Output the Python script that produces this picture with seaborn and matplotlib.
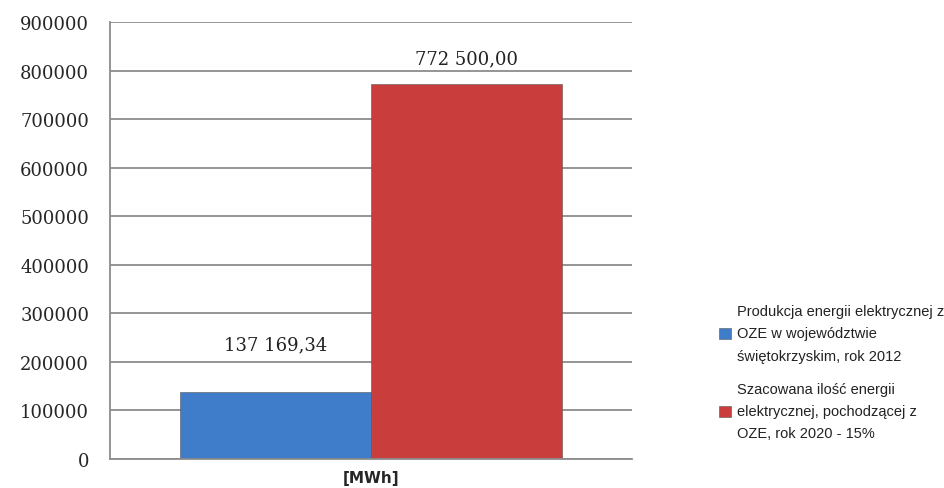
import numpy as np
import pandas as pd
import seaborn as sns
from matplotlib import pyplot as plt

# dane z wykresu
kategorie = ["[MWh]", "[MWh]"]
serie = [
    "Produkcja energii elektrycznej z\nOZE w województwie\nświętokrzyskim, rok 2012",
    "Szacowana ilość energii\nelektrycznej, pochodzącej z\nOZE, rok 2020 - 15%",
]
wartosci = [137169.34, 772500.00]
kolory = ["#3F7CC9", "#C93D3C"]
y_ticks = [0, 100000, 200000, 300000, 400000, 500000, 600000, 700000, 800000, 900000]


def formatuj(v):
    return f"{v:,.2f}".replace(",", " ").replace(".", ",")


df = pd.DataFrame({"kategoria": kategorie, "seria": serie, "wartosc": wartosci})

sns.set_style("white")
fig = plt.figure(figsize=(9.45, 4.89), dpi=100)
ax = fig.add_axes([0.1164, 0.0593, 0.5524, 0.8937])

sns.barplot(data=df, x="kategoria", y="wartosc", hue="seria", palette=kolory,
            saturation=1, width=0.73, ax=ax, edgecolor="#555555", linewidth=0.4,
            legend=True)

for cont, v, pad in zip(ax.containers, wartosci, [28, 12]):
    ax.bar_label(cont, labels=[formatuj(v)], padding=pad,
                 fontsize=13, family="DejaVu Serif", color="#222222")

ax.set_ylim(0, 900000)
ax.set_xlim(-0.5, 0.5)
ax.set_yticks(y_ticks)
ax.set_yticklabels([str(t) for t in y_ticks], family="DejaVu Serif", fontsize=13)
ax.tick_params(axis="y", length=0, pad=15)
ax.tick_params(axis="x", length=0, pad=8)
for lab in ax.get_xticklabels():
    lab.set_fontweight("bold")
    lab.set_fontsize(11)
ax.set_xlabel("")
ax.set_ylabel("")
ax.yaxis.grid(True, color="#8c8c8c", linewidth=1.3)
ax.set_axisbelow(True)
for s in ["top", "right"]:
    ax.spines[s].set_visible(False)
for s in ["left", "bottom"]:
    ax.spines[s].set_color("#8c8c8c")
    ax.spines[s].set_linewidth(1.3)

uchwyty, etykiety = ax.get_legend_handles_labels()
ax.get_legend().remove()
leg = fig.legend(uchwyty, etykiety, loc="center left", bbox_to_anchor=(0.747, 0.237),
                 frameon=False, handlelength=0.8, handleheight=0.8,
                 handletextpad=0.4, labelspacing=1.3,
                 prop={"family": ["Liberation Sans", "DejaVu Sans"], "size": 10.5})
for t in leg.get_texts():
    t.set_linespacing(1.75)
    t.set_color("#222222")

fig.savefig("out.png", dpi=100)
